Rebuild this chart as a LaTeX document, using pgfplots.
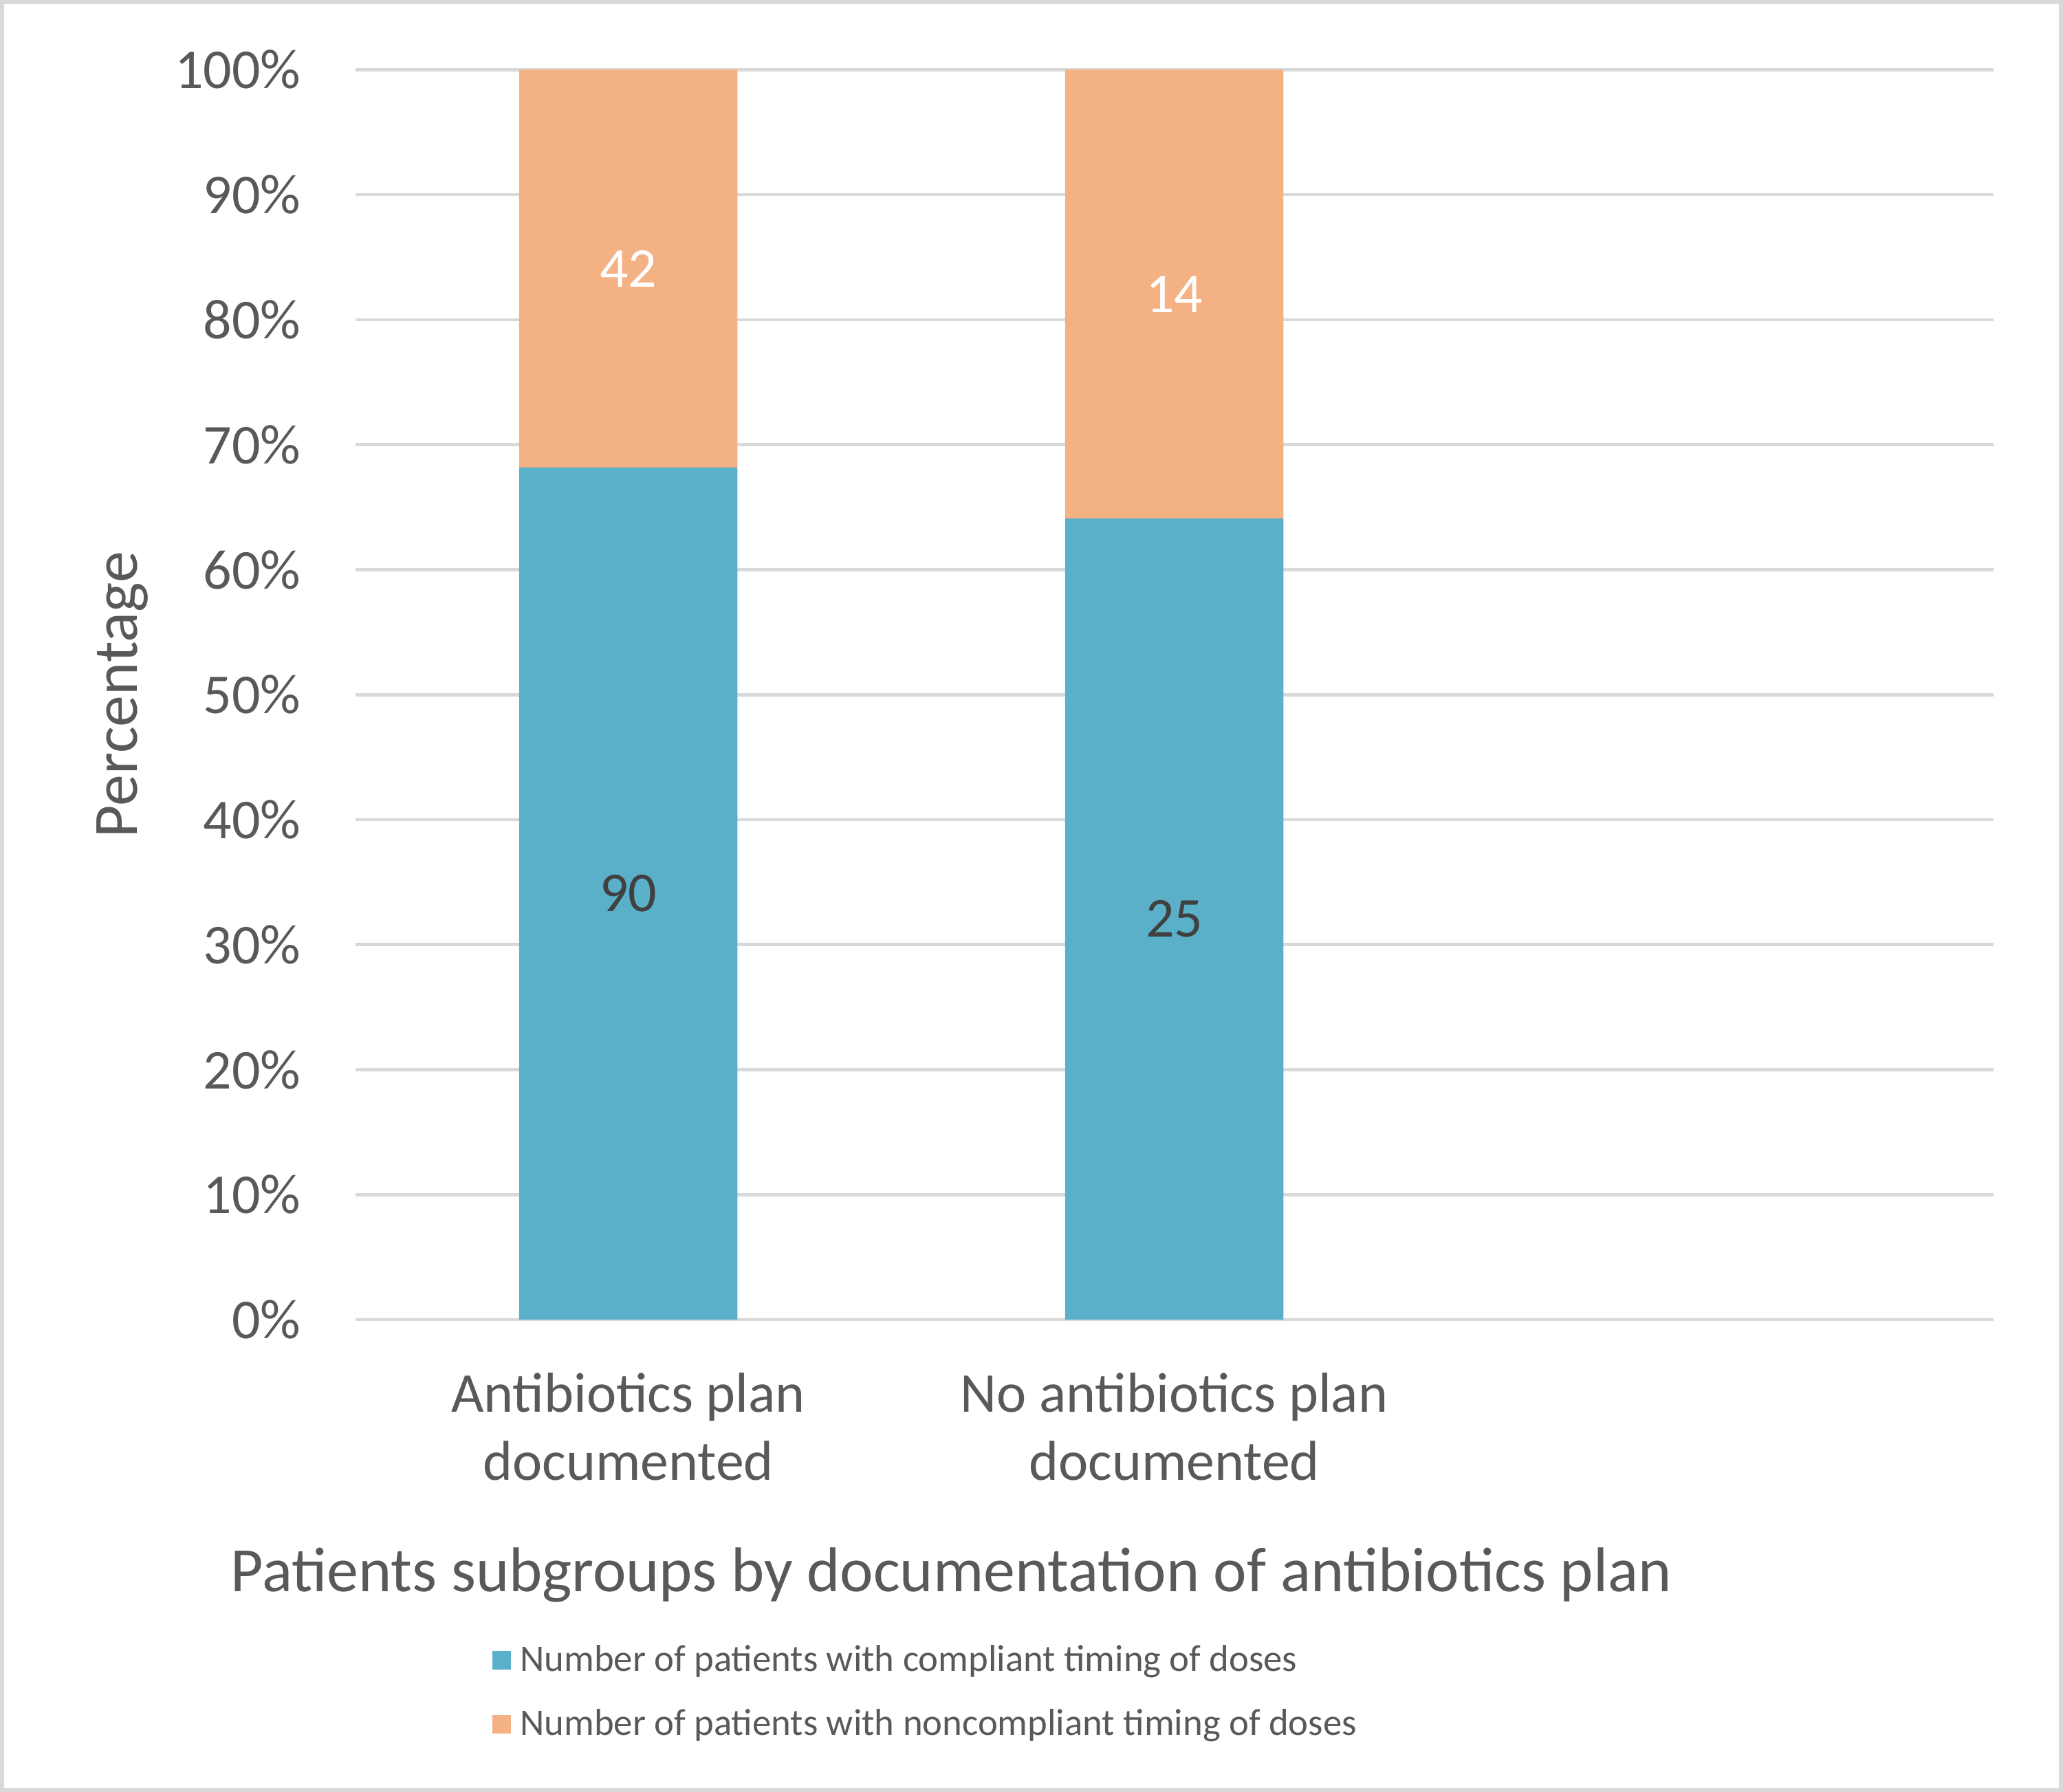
\documentclass[border=0pt]{standalone}
\usepackage{pgfplots}
\pgfplotsset{compat=1.18}
\usepackage{fontspec}
\setmainfont{Carlito}
\definecolor{txt}{HTML}{595959}
\definecolor{txtdark}{HTML}{404040}
\definecolor{grd}{HTML}{D9D9D9}
\definecolor{compl}{HTML}{5AAFC9}
\definecolor{noncompl}{HTML}{F4B183}
\pgfplotsset{
  sqlegend/.style={legend image code/.code={\fill[##1] (0pt,-3.5pt) rectangle (7pt,3.5pt);}},
  frame/.style={at={(0,0)}, anchor=south west, scale only axis, width=622.5pt, height=475pt,
    xmin=-0.5, xmax=2.5, ymin=0, ymax=100},
}
% counts per group: compliant / noncompliant
% antibiotics plan documented: 90 / 42, no plan documented: 25 / 14
\begin{document}
\begin{tikzpicture}
\path[use as bounding box] (-135pt,-179.5pt) rectangle (649pt,501.5pt);
\draw[grd, line width=1.5pt] (-134.25pt,-178.75pt) rectangle (648.25pt,500.75pt);
\begin{axis}[
  frame,
  ybar stacked, bar width=0.4,
  xtick={0,1},
  xticklabels={{Antibiotics plan\\documented},{No antibiotics plan\\documented}},
  ytick={0,10,...,100},
  yticklabel={\pgfmathprintnumber{\tick}\%},
  /pgf/number format/assume math mode=true,
  ymajorgrids, major grid style={grd, line width=1.2pt},
  axis line style={draw=none}, major tick style={draw=none},
  tick label style={font=\fontsize{21.4}{26}\selectfont, text=txt},
  xticklabel style={align=center, inner sep=0pt, anchor=north, yshift=-20pt},
  yticklabel style={inner sep=0pt, anchor=east, xshift=-20.5pt},
  ylabel={Percentage},
  ylabel style={at={(axis description cs:-0.1422,0.5)}, anchor=center, font=\fontsize{24}{29}\selectfont, text=txt},
  xlabel={Patients subgroups by documentation of antibiotics plan},
  xlabel style={at={(axis description cs:0.3639,-0.2042)}, anchor=center, font=\fontsize{24}{29}\selectfont, text=txt},
  legend style={at={(axis description cs:0.0835,-0.256)}, anchor=north west, draw=none, fill=none, inner sep=0pt, row sep=8.8pt, font=\fontsize{14.3}{17}\selectfont, text=txt, cells={anchor=west},
    /tikz/every odd column/.append style={column sep=1.5pt}},
]
\addplot[fill=compl, draw=none, sqlegend]
  coordinates {(0,68.18) (1,64.10)};
\addlegendentry{Number of patients with compliant timing of doses}
\addplot[fill=noncompl, draw=none, sqlegend]
  coordinates {(0,31.82) (1,35.90)};
\addlegendentry{Number of patients with noncompliant timing of doses}
\end{axis}
% data labels (patient counts) at the middle of each segment
\begin{axis}[
  frame, hide axis,
  nodes near coords, nodes near coords align={center},
  point meta=explicit symbolic,
  every node near coord/.append style={anchor=center, font=\fontsize{21.4}{26}\selectfont},
]
\addplot[draw=none, mark=none, every node near coord/.append style={text=txtdark}]
  coordinates {(0,34.09)[90] (1,32.05)[25]};
\addplot[draw=none, mark=none, every node near coord/.append style={text=white}]
  coordinates {(0,84.09)[42] (1,82.05)[14]};
\end{axis}
\end{tikzpicture}
\end{document}
